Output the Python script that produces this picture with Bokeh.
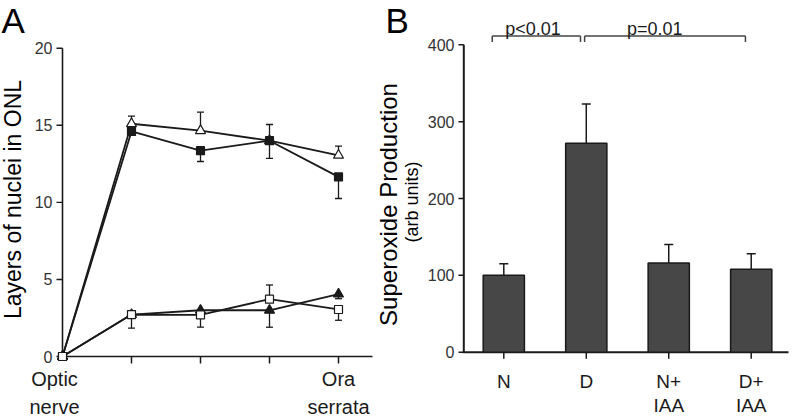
import math
from bokeh.plotting import figure
from bokeh.models import ColumnDataSource, Whisker, TeeHead, Range1d
from bokeh.layouts import row
from bokeh.core.properties import value
from bokeh.embed import file_html
from bokeh.resources import INLINE

FONT = "Liberation Sans"
INK = "#1a1a1a"
TICK_TEXT = "#333333"

# ---------------- Panel A data ----------------
positions = [0, 1, 2, 3, 4]
position_labels = ["Optic\nnerve", "", "", "", "Ora\nserrata"]
layers_ticks = [0, 5, 10, 15, 20]
layers_tick_labels = ["0", "5", "10", "15", "20"]

open_triangle = [0.0, 15.1, 14.65, 14.0, 13.05]
open_triangle_err_up = [0.0, 0.5, 1.2, 1.05, 0.6]
open_triangle_err_down = [0.0, 0.0, 0.0, 0.0, 0.0]

filled_square = [0.0, 14.6, 13.35, 14.0, 11.65]
filled_square_err_up = [0.0, 0.0, 0.0, 0.0, 0.0]
filled_square_err_down = [0.0, 0.0, 0.7, 1.15, 1.4]

filled_triangle = [0.0, 2.72, 3.0, 3.0, 4.05]
filled_triangle_err_up = [0.0, 0.0, 0.0, 0.0, 0.0]
filled_triangle_err_down = [0.0, 0.0, 0.0, 1.1, 0.3]

open_square = [0.0, 2.72, 2.7, 3.72, 3.05]
open_square_err_up = [0.0, 0.0, 0.0, 0.92, 0.0]
open_square_err_down = [0.0, 0.88, 0.8, 0.0, 0.7]

# ---------------- Panel B data ----------------
groups = ["N", "D", "N+\nIAA", "D+\nIAA"]
group_pos = [1, 2, 3, 4]
superoxide = [100, 272, 116, 108]
superoxide_err = [15, 51, 24, 20]
superoxide_ticks = [0, 100, 200, 300, 400]
superoxide_tick_labels = ["0", "100", "200", "300", "400"]
p_labels = ["p<0.01", "p=0.01"]

SPLIT = 373  # page x where panel B starts


# page pixel -> data helpers (layout only)
def ax_x(px):
    return (px - 62.0) / 69.0


def ax_y(py):
    return (356.0 - py) / 15.415


def bx_x(px):
    return 1 + (px - 503.3) / 82.47


def bx_y(py):
    return (351.7 - py) / 0.7685


def bare(p):
    p.grid.visible = False
    p.outline_line_color = None
    p.background_fill_color = "white"
    p.border_fill_color = "white"


# ================= Panel A =================
pa = figure(width=SPLIT, height=418, output_backend="svg", toolbar_location=None,
            x_range=Range1d(ax_x(0), ax_x(SPLIT)), y_range=Range1d(ax_y(418), ax_y(0)),
            x_axis_location=None, y_axis_location=None, min_border=0)
bare(pa)

# axis lines at data zero
pa.segment(x0=[positions[0], positions[0]], y0=[layers_ticks[0], layers_ticks[0]],
           x1=[positions[0], ax_x(372)], y1=[layers_ticks[-1], layers_ticks[0]],
           line_color=INK, line_width=1.6)
# y ticks and labels
n = len(layers_ticks)
pa.segment(x0=[ax_x(56)] * n, y0=layers_ticks, x1=[positions[0]] * n, y1=layers_ticks,
           line_color=INK, line_width=1.4)
pa.text(x=[ax_x(52)] * n, y=layers_ticks, text=layers_tick_labels, text_align="right",
        text_baseline="middle", text_font=value(FONT), text_font_size="16px", text_color=TICK_TEXT)
# x ticks
pa.segment(x0=positions[1:], y0=[0] * 4, x1=positions[1:], y1=[ax_y(363)] * 4,
           line_color=INK, line_width=1.5)

series = [
    (open_triangle, open_triangle_err_up, open_triangle_err_down, "triangle", "white", 10),
    (filled_square, filled_square_err_up, filled_square_err_down, "square", INK, 8),
    (filled_triangle, filled_triangle_err_up, filled_triangle_err_down, "triangle", INK, 10),
    (open_square, open_square_err_up, open_square_err_down, "square", "white", 8),
]

for vals, eu, ed, mk, fc, sz in series:
    pa.line(positions, vals, line_color=INK, line_width=1.8)

for vals, eu, ed, mk, fc, sz in series:
    up = [(x, v, v + e) for x, v, e in zip(positions, vals, eu) if e > 0]
    dn = [(x, v - e, v) for x, v, e in zip(positions, vals, ed) if e > 0]
    if up:
        src = ColumnDataSource(dict(x=[u[0] for u in up], lo=[u[1] for u in up], hi=[u[2] for u in up]))
        pa.add_layout(Whisker(base="x", lower="lo", upper="hi", source=src, level="underlay",
                              line_color=INK, line_width=1.3,
                              upper_head=TeeHead(size=7, line_color=INK, line_width=1.3),
                              lower_head=None))
    if dn:
        src = ColumnDataSource(dict(x=[u[0] for u in dn], lo=[u[1] for u in dn], hi=[u[2] for u in dn]))
        pa.add_layout(Whisker(base="x", lower="lo", upper="hi", source=src, level="underlay",
                              line_color=INK, line_width=1.3,
                              lower_head=TeeHead(size=7, line_color=INK, line_width=1.3),
                              upper_head=None))

for vals, eu, ed, mk, fc, sz in series:
    pa.scatter(positions, vals, marker=mk, size=sz, fill_color=fc, line_color=INK, line_width=1.2)

label_nudge = [-8, 0, 0, 0, 0]
pa.text(x=positions, y=[ax_y(367.5)] * len(positions), text=position_labels, x_offset=label_nudge,
        text_align="center", text_baseline="top", text_font=value(FONT),
        text_font_size="20px", text_color=INK, text_line_height=1.25)

pa.text(x=[ax_x(1)], y=[ax_y(20)], text=["A"], text_font=value(FONT), text_font_size="35px",
        text_color="#000000", text_align="left", text_baseline="middle")
pa.text(x=[ax_x(12.5)], y=[ax_y(199)], text=["Layers of nuclei in ONL"], angle=math.pi / 2,
        text_font=value(FONT), text_font_size="23px", text_color="#000000",
        text_align="center", text_baseline="middle")

# ================= Panel B =================
pb = figure(width=797 - SPLIT, height=418, output_backend="svg", toolbar_location=None,
            x_range=Range1d(bx_x(SPLIT), bx_x(797)), y_range=Range1d(bx_y(418), bx_y(0)),
            x_axis_location=None, y_axis_location=None, min_border=0)
bare(pb)

m = len(superoxide_ticks)
# y axis line, ticks, labels
pb.segment(x0=[bx_x(463.3)], y0=[superoxide_ticks[0]], x1=[bx_x(463.3)], y1=[superoxide_ticks[-1]],
           line_color=INK, line_width=2)
pb.segment(x0=[bx_x(458)] * m, y0=superoxide_ticks, x1=[bx_x(463.3)] * m, y1=superoxide_ticks,
           line_color=INK, line_width=1.5)
pb.text(x=[bx_x(454)] * m, y=superoxide_ticks, text=superoxide_tick_labels, text_align="right",
        text_baseline="middle", text_font=value(FONT), text_font_size="16px", text_color=TICK_TEXT)

# x axis line and ticks
pb.segment(x0=[bx_x(462.3)], y0=[0], x1=[bx_x(788)], y1=[0], line_color=INK, line_width=2)
pb.segment(x0=group_pos, y0=[0] * 4, x1=group_pos, y1=[bx_y(358.3)] * 4,
           line_color=INK, line_width=1.5)

bsrc = ColumnDataSource(dict(x=group_pos, top=superoxide,
                             hi=[v + e for v, e in zip(superoxide, superoxide_err)]))
pb.add_layout(Whisker(base="x", lower="top", upper="hi", source=bsrc, level="underlay",
                      line_color=INK, line_width=1.5,
                      upper_head=TeeHead(size=9, line_color=INK, line_width=1.5), lower_head=None))
pb.vbar(x="x", top="top", bottom=0, width=0.5, source=bsrc,
        fill_color="#474747", line_color=INK, line_width=1.5)

pb.text(x=group_pos, y=[bx_y(370)] * 4, text=groups, text_align="center", text_baseline="top",
        text_font=value(FONT), text_font_size="19px", text_color=INK, text_line_height=1.15)

# significance brackets
br_x0 = [0.86, 1.98]
br_x1 = [1.93, 3.93]
br_y = bx_y(35.5)
br_drop = bx_y(41.5)
pb.segment(x0=br_x0 + br_x0 + br_x1, y0=[br_y] * 6,
           x1=br_x1 + br_x0 + br_x1, y1=[br_y] * 2 + [br_drop] * 4,
           line_color="#444444", line_width=1.5)
pb.text(x=[1.354, 2.83], y=[bx_y(28.3)] * 2, text=p_labels, text_align="center",
        text_baseline="middle", text_font=value(FONT), text_font_size="18px", text_color=INK)

pb.text(x=[bx_x(385)], y=[bx_y(20)], text=["B"], text_font=value(FONT), text_font_size="35px",
        text_color="#000000", text_align="left", text_baseline="middle")
pb.text(x=[bx_x(388)], y=[bx_y(204)], text=["Superoxide Production"], angle=math.pi / 2,
        text_font=value(FONT), text_font_size="24px", text_color="#000000",
        text_align="center", text_baseline="middle")
pb.text(x=[bx_x(411)], y=[bx_y(201.5)], text=["(arb units)"], angle=math.pi / 2,
        text_font=value(FONT), text_font_size="18px", text_color="#000000",
        text_align="center", text_baseline="middle")

layout = row(pa, pb)
open("out.html", "w").write(file_html(layout, INLINE))
